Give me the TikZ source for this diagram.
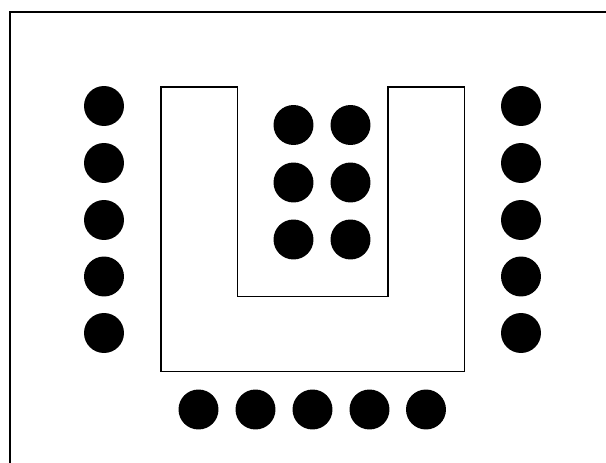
\documentclass[tikz,border=0pt]{standalone}
\begin{document}
\begin{tikzpicture}[x=0.02cm, y=-0.02cm, line join=miter]
			\clip (0,0) rectangle (606,463);
			\useasboundingbox (0,0) rectangle (606,463);
			\coordinate (P1) at (161,87);
			\coordinate (P2) at (237.5,87);
			\coordinate (P3) at (237.5,296.5);
			\coordinate (P4) at (388,296.5);
			\coordinate (P5) at (388,87);
			\coordinate (P6) at (464.5,87);
			\coordinate (P7) at (464.5,371.5);
			\coordinate (P8) at (161,371.5);
			\draw[line width=1.1pt] (10,12) rectangle (640,500);
			\draw[line width=0.75pt] (P1)--(P2)--(P3)--(P4)--(P5)--(P6)--(P7)--(P8)--cycle;
			% left row
			\fill (104,106) circle (0.4cm);
			\fill (104,163) circle (0.4cm);
			\fill (104,220) circle (0.4cm);
			\fill (104,276.5) circle (0.4cm);
			\fill (104,333) circle (0.4cm);
			% right row
			\fill (521,106) circle (0.4cm);
			\fill (521,163) circle (0.4cm);
			\fill (521,220) circle (0.4cm);
			\fill (521,276.5) circle (0.4cm);
			\fill (521,333) circle (0.4cm);
			% inside the U
			\fill (293.5,125) circle (0.4cm);
			\fill (350.5,125) circle (0.4cm);
			\fill (293.5,182.5) circle (0.4cm);
			\fill (350.5,182.5) circle (0.4cm);
			\fill (293.5,239.5) circle (0.4cm);
			\fill (350.5,239.5) circle (0.4cm);
			% bottom row
			\fill (198.5,409.5) circle (0.4cm);
			\fill (255.5,409.5) circle (0.4cm);
			\fill (312.5,409.5) circle (0.4cm);
			\fill (369.5,409.5) circle (0.4cm);
			\fill (426,409.5) circle (0.4cm);
		\end{tikzpicture}
\end{document}
